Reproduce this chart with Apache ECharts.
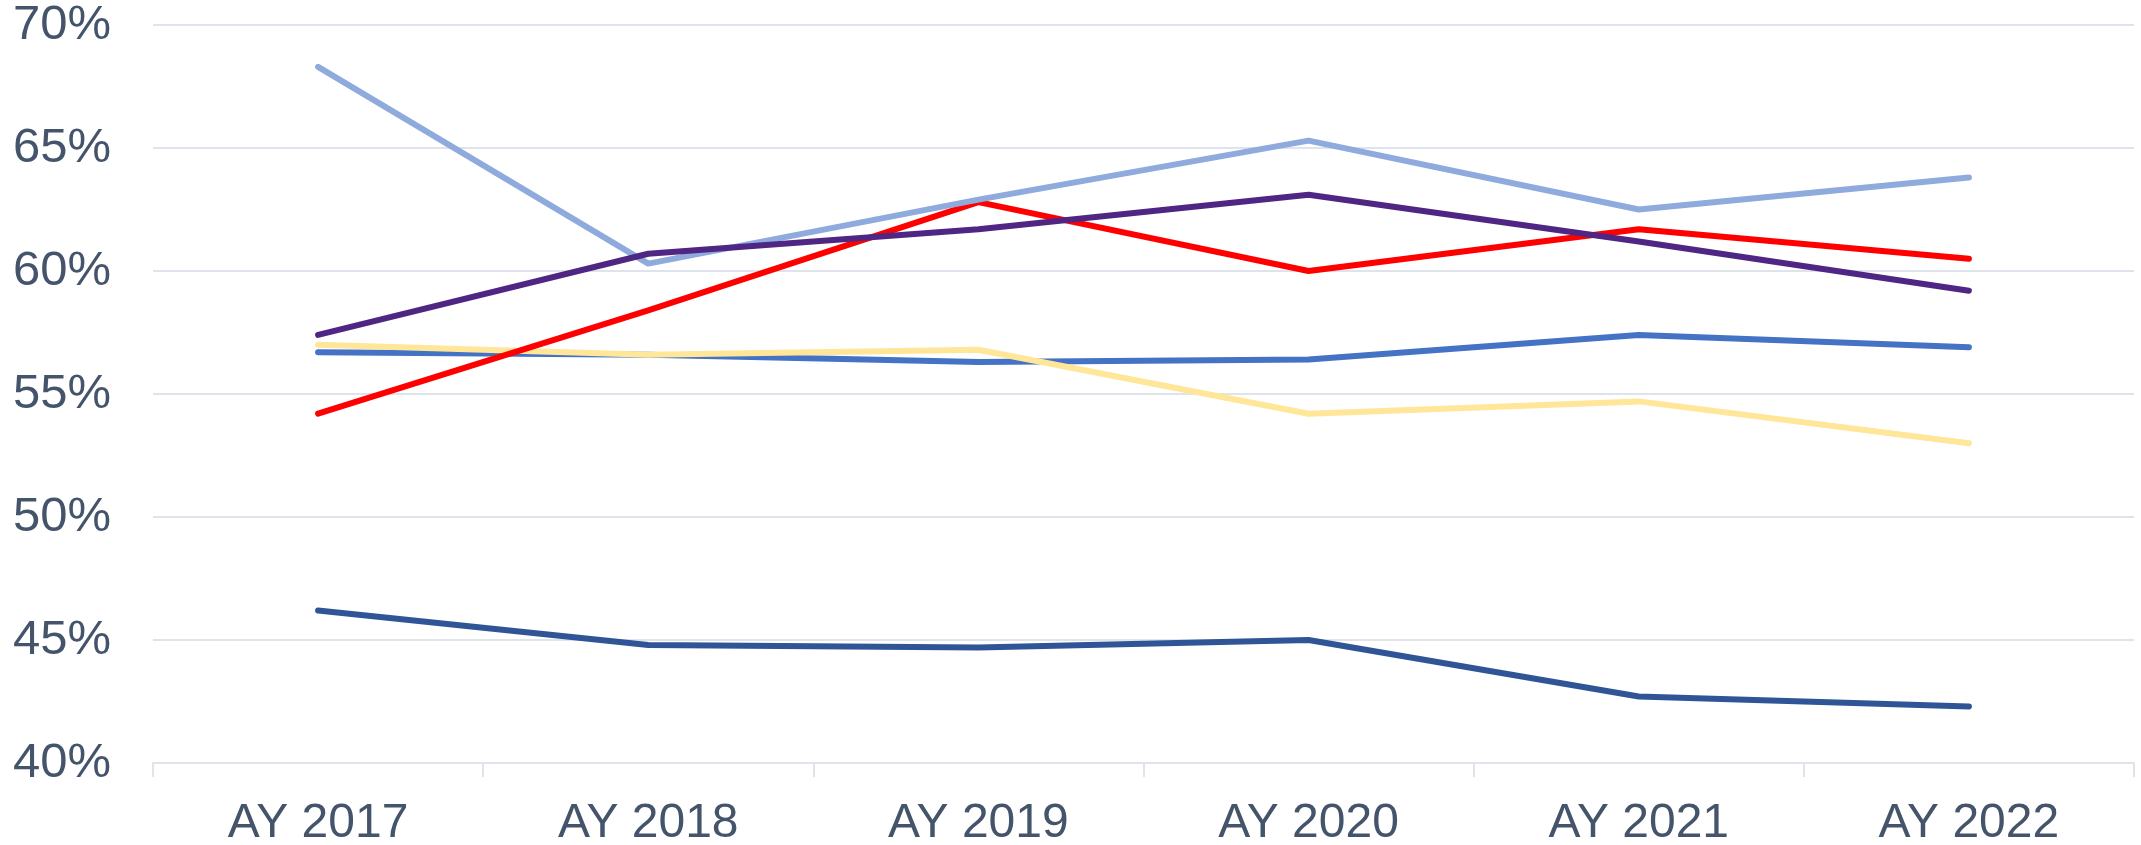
<!DOCTYPE html>
<html>
<head>
<meta charset="utf-8">
<script src="https://cdn.jsdelivr.net/npm/echarts@6/dist/echarts.min.js"></script>
<style>
  html, body { margin: 0; padding: 0; background: #ffffff; }
  #chart { width: 2141px; height: 845px; }
</style>
</head>
<body>
<div id="chart"></div>
<script>
// categories
const years = ['AY 2017', 'AY 2018', 'AY 2019', 'AY 2020', 'AY 2021', 'AY 2022']

// series values (%)
const darkBlueVals = [46.2, 44.8, 44.7, 45.0, 42.7, 42.3]
const blueVals = [56.7, 56.6, 56.3, 56.4, 57.4, 56.9]
const yellowVals = [57.0, 56.6, 56.8, 54.2, 54.7, 53.0]
const redVals = [54.2, 58.4, 62.8, 60.0, 61.7, 60.5]
const lightBlueVals = [68.3, 60.3, 62.9, 65.3, 62.5, 63.8]
const purpleVals = [57.4, 60.7, 61.7, 63.1, 61.2, 59.2]

// y axis ticks
const yTicks = [40, 45, 50, 55, 60, 65, 70]

const chart = echarts.init(document.getElementById('chart'))

const textColor = '#44546A'
const gridColor = '#DFE4EC'

const makeLine = (data, color) => ({
  type: 'line',
  data: data,
  symbol: 'none',
  lineStyle: { color: color, width: 6, cap: 'round', join: 'round' },
  itemStyle: { color: color },
  animation: false
})

const option = {
  backgroundColor: '#ffffff',
  grid: { left: 153, right: 7, top: 25, bottom: 82, outerBoundsMode: 'none' },
  xAxis: {
    type: 'category',
    data: years,
    boundaryGap: true,
    axisLine: { lineStyle: { color: gridColor, width: 2 } },
    axisTick: { show: true, length: 14, lineStyle: { color: gridColor, width: 2 } },
    axisLabel: {
      color: textColor,
      fontFamily: 'Liberation Sans, Arial, sans-serif',
      fontSize: 48,
      margin: 37
    }
  },
  yAxis: {
    type: 'value',
    min: yTicks[0],
    max: yTicks[yTicks.length - 1],
    interval: 5,
    axisLine: { show: false },
    axisTick: { show: false },
    splitLine: { lineStyle: { color: gridColor, width: 2 } },
    axisLabel: {
      color: textColor,
      fontFamily: 'Liberation Sans, Arial, sans-serif',
      fontSize: 49,
      margin: 42,
      formatter: '{value}%'
    }
  },
  series: [
    makeLine(darkBlueVals, '#2F5597'),
    makeLine(blueVals, '#4472C4'),
    makeLine(yellowVals, '#FFE699'),
    makeLine(redVals, '#FF0000'),
    makeLine(lightBlueVals, '#8FAADC'),
    makeLine(purpleVals, '#4F2683')
  ]
}

chart.setOption(option)
</script>
</body>
</html>
